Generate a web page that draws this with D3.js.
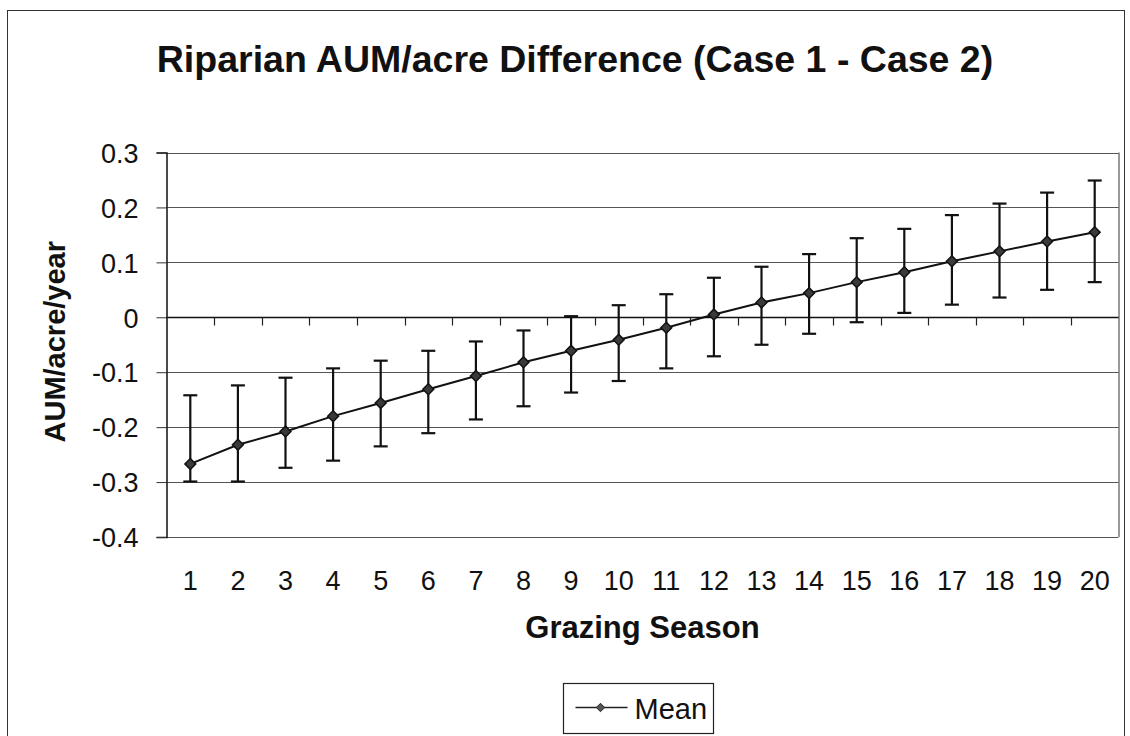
<!DOCTYPE html>
<html>
<head>
<meta charset="utf-8">
<script src="https://cdn.jsdelivr.net/npm/d3@7"></script>
<style>
  body { margin: 0; background: #fff; }
  text { font-family: "Liberation Sans", Arial, sans-serif; }
</style>
</head>
<body>
<div id="chart"></div>
<script>
// Data
const seasons = ["1", "2", "3", "4", "5", "6", "7", "8", "9", "10",
  "11", "12", "13", "14", "15", "16", "17", "18", "19", "20"];
const meanValues = [-0.267, -0.232, -0.208, -0.180, -0.156, -0.131, -0.107, -0.082, -0.061, -0.041,
  -0.019, 0.005, 0.027, 0.044, 0.064, 0.082, 0.102, 0.120, 0.138, 0.155];
const upperValues = [-0.142, -0.124, -0.110, -0.093, -0.079, -0.061, -0.044, -0.024, 0.002, 0.022,
  0.042, 0.072, 0.092, 0.115, 0.144, 0.161, 0.186, 0.207, 0.227, 0.249];
const lowerValues = [-0.299, -0.299, -0.274, -0.261, -0.235, -0.211, -0.186, -0.162, -0.137, -0.116,
  -0.093, -0.071, -0.050, -0.030, -0.009, 0.008, 0.023, 0.036, 0.050, 0.064];
const yTicks = [0.3, 0.2, 0.1, 0, -0.1, -0.2, -0.3, -0.4];
const yTickLabels = ["0.3", "0.2", "0.1", "0", "-0.1", "-0.2", "-0.3", "-0.4"];

(function runApp() {
  const config = {
    width: 1130,
    height: 736,
    margin: { top: 152.5, right: 11.5, bottom: 199, left: 166.5 },
  };
  const { width, height, margin } = config;

  const data = seasons.map((s, i) => ({
    season: s,
    mean: meanValues[i],
    upper: upperValues[i],
    lower: lowerValues[i],
  }));

  const svg = d3
    .select("#chart")
    .append("svg")
    .attr("width", width)
    .attr("height", height);

  // outer chart frame
  svg
    .append("rect")
    .attr("x", 7.5)
    .attr("y", 10.5)
    .attr("width", 1117)
    .attr("height", 760)
    .attr("fill", "none")
    .attr("stroke", "#333")
    .attr("stroke-width", 1);

  const x0 = margin.left;
  const x1 = width - margin.right;

  const xScale = d3
    .scaleBand()
    .domain(seasons)
    .range([x0, x1]);

  const yScale = d3
    .scaleLinear()
    .domain([-0.4, 0.3])
    .range([height - margin.bottom, margin.top]);

  // gridlines
  svg
    .selectAll(".grid")
    .data(yTicks)
    .join("line")
    .attr("class", "grid")
    .attr("x1", x0)
    .attr("x2", x1)
    .attr("y1", (d) => Math.round(yScale(d)) + 0.5)
    .attr("y2", (d) => Math.round(yScale(d)) + 0.5)
    .attr("stroke", "#555")
    .attr("stroke-width", 1.2);

  // plot frame right edge
  svg
    .append("line")
    .attr("x1", x1 + 0.5)
    .attr("x2", x1 + 0.5)
    .attr("y1", yScale(0.3))
    .attr("y2", yScale(-0.4))
    .attr("stroke", "#555")
    .attr("stroke-width", 1.2);

  // Y axis
  const yAxisGroup = svg
    .append("g")
    .attr("class", "y-axis")
    .attr("transform", `translate(${x0}, 0)`)
    .call(
      d3.axisLeft(yScale)
        .tickValues(yTicks)
        .tickSize(10)
        .tickPadding(18)
        .tickFormat((d, i) => yTickLabels[i])
    );
  yAxisGroup.select(".domain").attr("stroke", "#111").attr("stroke-width", 1.5);
  yAxisGroup.selectAll(".tick line").attr("stroke", "#333");
  yAxisGroup
    .selectAll(".tick text")
    .attr("font-size", "27px")
    .attr("fill", "#111")
    .attr("dy", "0.36em");

  // X axis along zero line, ticks between categories
  const xAxisGroup = svg
    .append("g")
    .attr("class", "x-axis")
    .attr("transform", `translate(0, ${Math.round(yScale(0)) + 0.5})`);
  xAxisGroup
    .append("line")
    .attr("x1", x0)
    .attr("x2", x1)
    .attr("stroke", "#111")
    .attr("stroke-width", 1.5);
  xAxisGroup
    .selectAll(".xtick")
    .data(seasons.slice(1))
    .join("line")
    .attr("class", "xtick")
    .attr("x1", (d) => Math.round(xScale(d)) + 0.5)
    .attr("x2", (d) => Math.round(xScale(d)) + 0.5)
    .attr("y1", 0)
    .attr("y2", 8)
    .attr("stroke", "#222")
    .attr("stroke-width", 1.2);

  // category labels below plot
  svg
    .selectAll(".x-label")
    .data(seasons)
    .join("text")
    .attr("class", "x-label")
    .attr("x", (d) => xScale(d) + xScale.bandwidth() / 2)
    .attr("y", 590)
    .attr("text-anchor", "middle")
    .attr("font-size", "27px")
    .attr("fill", "#111")
    .text((d) => d);

  // error bars
  const cap = 7;
  const cx = (d) => xScale(d.season) + xScale.bandwidth() / 2;
  const bars = svg
    .selectAll(".err")
    .data(data)
    .join("g")
    .attr("class", "err")
    .attr("stroke", "#111")
    .attr("stroke-width", 2.2);
  bars
    .append("line")
    .attr("x1", cx)
    .attr("x2", cx)
    .attr("y1", (d) => yScale(d.upper))
    .attr("y2", (d) => yScale(d.lower));
  bars
    .append("line")
    .attr("x1", (d) => cx(d) - cap)
    .attr("x2", (d) => cx(d) + cap)
    .attr("y1", (d) => yScale(d.upper))
    .attr("y2", (d) => yScale(d.upper));
  bars
    .append("line")
    .attr("x1", (d) => cx(d) - cap)
    .attr("x2", (d) => cx(d) + cap)
    .attr("y1", (d) => yScale(d.lower))
    .attr("y2", (d) => yScale(d.lower));

  // mean line
  const line = d3
    .line()
    .x(cx)
    .y((d) => yScale(d.mean));
  svg
    .append("path")
    .datum(data)
    .attr("fill", "none")
    .attr("stroke", "#111")
    .attr("stroke-width", 2)
    .attr("d", line);

  // diamond markers
  const diamond = d3.symbol().type(d3.symbolDiamond2).size(75);
  svg
    .selectAll(".marker")
    .data(data)
    .join("path")
    .attr("class", "marker")
    .attr("transform", (d) => `translate(${cx(d)}, ${yScale(d.mean)})`)
    .attr("d", diamond)
    .attr("fill", "#3a3a3a")
    .attr("stroke", "#111")
    .attr("stroke-width", 1.5);

  // Title and axis labels
  svg
    .append("text")
    .attr("x", 575)
    .attr("y", 72)
    .attr("text-anchor", "middle")
    .attr("font-size", "37.5px")
    .attr("font-weight", "bold")
    .attr("fill", "#111")
    .text("Riparian AUM/acre Difference (Case 1 - Case 2)");

  svg
    .append("text")
    .attr("x", (x0 + x1) / 2)
    .attr("y", 638)
    .attr("text-anchor", "middle")
    .attr("font-size", "31px")
    .attr("font-weight", "bold")
    .attr("fill", "#111")
    .text("Grazing Season");

  svg
    .append("text")
    .attr("transform", `translate(65, ${(yScale(0.3) + yScale(-0.4)) / 2 - 3}) rotate(-90)`)
    .attr("text-anchor", "middle")
    .attr("font-size", "29px")
    .attr("font-weight", "bold")
    .attr("fill", "#111")
    .text("AUM/acre/year");

  // Legend
  const legend = svg.append("g").attr("transform", "translate(563.5, 683.5)");
  legend
    .append("rect")
    .attr("width", 150)
    .attr("height", 50)
    .attr("fill", "#fff")
    .attr("stroke", "#222")
    .attr("stroke-width", 1.2);
  legend
    .append("line")
    .attr("x1", 12)
    .attr("x2", 64)
    .attr("y1", 24)
    .attr("y2", 24)
    .attr("stroke", "#222")
    .attr("stroke-width", 1.5);
  legend
    .append("path")
    .attr("transform", "translate(37, 24)")
    .attr("d", d3.symbol().type(d3.symbolDiamond2).size(45))
    .attr("fill", "#555")
    .attr("stroke", "#222")
    .attr("stroke-width", 1);
  legend
    .append("text")
    .attr("x", 71)
    .attr("y", 35)
    .attr("font-size", "29px")
    .attr("fill", "#111")
    .text("Mean");
})();
</script>
</body>
</html>
